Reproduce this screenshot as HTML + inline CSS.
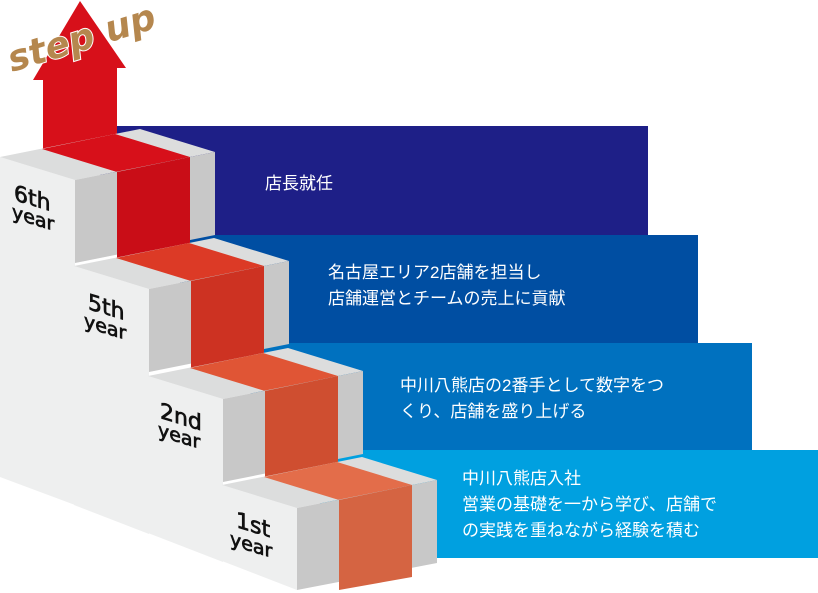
<!DOCTYPE html>
<html><head><meta charset="utf-8"><style>
html,body{margin:0;padding:0;background:#fff;width:818px;height:593px;overflow:hidden}
svg{display:block}
.t{font-family:"Liberation Sans","Noto Sans CJK JP",sans-serif;font-size:17px;fill:#fff}
.l{font-family:"DejaVu Sans","Liberation Sans",sans-serif;fill:#111;stroke:#111;stroke-width:0.7}
</style></head><body>
<svg width="818" height="593" viewBox="0 0 818 593" xmlns="http://www.w3.org/2000/svg">
<rect x="100" y="126" width="548" height="109" fill="#1e1f87"/>
<rect x="180" y="235" width="518" height="108" fill="#004ea2"/>
<rect x="250" y="343" width="502" height="107" fill="#0071bf"/>
<rect x="320" y="450" width="498" height="108" fill="#00a0e0"/>
<text class="t" x="265" y="189">店長就任</text>
<text class="t" x="328" y="278">名古屋エリア2店舗を担当し</text>
<text class="t" x="328" y="304">店舗運営とチームの売上に貢献</text>
<text class="t" x="400" y="391">中川八熊店の2番手として数字をつ</text>
<text class="t" x="400" y="417">くり、店舗を盛り上げる</text>
<text class="t" x="462" y="484">中川八熊店入社</text>
<text class="t" x="462" y="510">営業の基礎を一から学び、店舗で</text>
<text class="t" x="462" y="536">の実践を重ねながら経験を積む</text>

<polygon points="80,1 126,68 117,68 117,140 43,155 43,80 33,80" fill="#d7101a"/>

<polygon points="0,157 75,180 75,505 0,477" fill="#eeefef"/>
<polygon points="0,157 140,129 215,152 75,180" fill="#dcdddd"/>
<polygon points="42,149 115,134 190,157 117,172" fill="#d7101a"/>
<polygon points="75,180 215,152 215,235 75,263" fill="#c8c8c8"/>
<polygon points="117,172 190,157 190,249 117,263" fill="#c90d17"/>
<text class="l" transform="translate(14,200) skewY(17)" font-size="22">6th</text>
<text class="l" transform="translate(12,218) skewY(17)" font-size="19">year</text>

<polygon points="74,266 149,289 149,534 74,505" fill="#eeefef"/>
<polygon points="74,266 214,238 289,261 149,289" fill="#dcdddd"/>
<polygon points="116,258 189,243 264,266 191,281" fill="#dc3a26"/>
<polygon points="149,289 289,261 289,344 149,372" fill="#c8c8c8"/>
<polygon points="191,281 264,266 264,358 191,372" fill="#cd3222"/>
<text class="l" transform="translate(88,309) skewY(17)" font-size="22">5th</text>
<text class="l" transform="translate(84,327) skewY(17)" font-size="19">year</text>

<polygon points="148,376 223,399 223,562 148,533" fill="#eeefef"/>
<polygon points="148,376 288,348 363,371 223,399" fill="#dcdddd"/>
<polygon points="190,368 263,353 338,376 265,391" fill="#e05535"/>
<polygon points="223,399 363,371 363,454 223,482" fill="#c8c8c8"/>
<polygon points="265,391 338,376 338,468 265,482" fill="#cf4e30"/>
<text class="l" transform="translate(160,418) skewY(17)" font-size="22">2nd</text>
<text class="l" transform="translate(158,436) skewY(17)" font-size="19">year</text>

<polygon points="222,485 297,508 297,590 222,561" fill="#eeefef"/>
<polygon points="222,485 362,457 437,480 297,508" fill="#dcdddd"/>
<polygon points="264,477 337,462 412,485 339,500" fill="#e36d4a"/>
<polygon points="297,508 437,480 437,563 297,590" fill="#c8c8c8"/>
<polygon points="339,500 412,485 412,577 339,590" fill="#d56442"/>
<text class="l" transform="translate(236,527) skewY(17)" font-size="22">1st</text>
<text class="l" transform="translate(230,545) skewY(17)" font-size="19">year</text>

<text transform="translate(12,72) rotate(-17)" font-family="DejaVu Sans,sans-serif" font-weight="bold" font-style="italic" font-size="36" fill="#b5874e" stroke="#fff" stroke-width="2" paint-order="stroke">step up</text>
</svg>
</body></html>
